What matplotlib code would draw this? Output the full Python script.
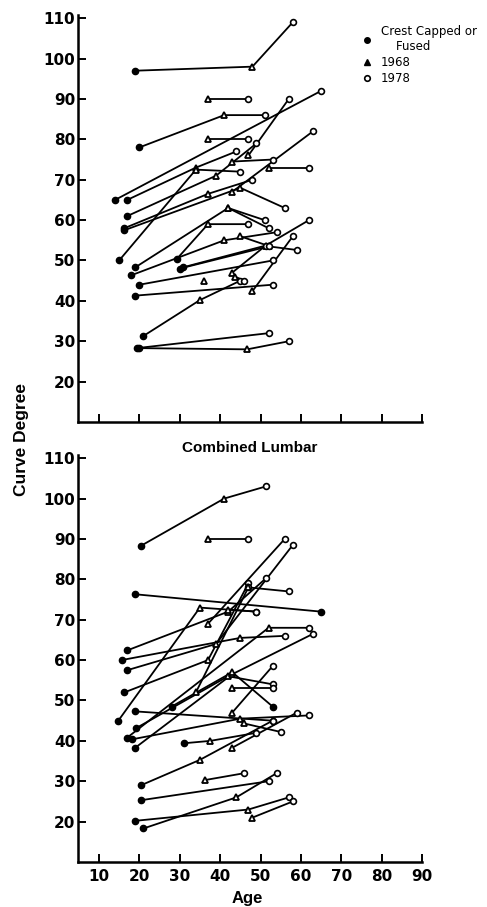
import matplotlib
matplotlib.use('Agg')
import matplotlib.pyplot as plt
from matplotlib.lines import Line2D

# F = crest capped or fused, T = 1968, O = 1978
top_ages = [
    [19, 48, 58], [37, 47], [20, 41, 51], [37, 47], [14, 65],
    [17, 34, 44], [15, 34, 45], [17, 39, 49], [16.3, 37, 48], [16.3, 45, 56],
    [43, 63], [43, 53], [47, 57], [52, 62], [19, 42, 51],
    [29.3, 37, 47], [30.8, 51.3, 62], [30, 52, 59], [17.9, 41, 54], [20, 53],
    [19, 53], [21, 35, 45], [19.4, 52], [20, 46.7, 57], [36],
    [43, 51.3], [43.7, 46], [48, 58], [45, 52], [42, 52],
]
top_degs = [
    [97, 98, 109], [90, 90], [78, 86, 86], [80, 80], [65, 92],
    [65, 73, 77], [50, 72.5, 72], [61, 71, 79], [58, 66.5, 70], [57.5, 68, 63],
    [67, 82], [74.5, 75], [76, 90], [73, 73], [48.3, 63, 60],
    [50.4, 59, 59], [48.3, 53.7, 60], [48, 53.5, 52.6], [46.3, 55, 57], [44, 50],
    [41.3, 44], [31.3, 40.2, 45], [28.3, 32], [28.3, 28, 30], [45],
    [47, 53.7], [46, 45], [42.4, 56], [56, 53.6], [63, 58],
]
top_kinds = [
    "FTO", "TO", "FTO", "TO", "FO",
    "FTO", "FTO", "FTO", "FTO", "FTO",
    "TO", "TO", "TO", "TO", "FTO",
    "FTO", "FTO", "FTO", "FTO", "FO",
    "FO", "FTO", "FO", "FTO", "T",
    "TO", "TO", "TO", "TO", "TO",
]

bot_ages = [
    [20.4, 41, 51.3], [37, 47], [19, 65], [17, 42, 51.4], [15.6, 45, 56],
    [17, 39, 58], [16.3, 37, 47], [14.8, 35, 49], [19, 53], [19.3, 42, 53],
    [17, 52, 62], [18.3, 45, 62], [19, 43, 63], [31, 37.6, 49], [20.4, 35, 53],
    [20.4, 52], [19, 47, 57], [21, 44, 54], [36.3, 46], [48, 58],
    [37, 56], [28, 43, 53], [43, 53], [43, 53], [43, 59],
    [46, 55], [34, 47], [47, 57], [42, 49],
]
bot_degs = [
    [88.3, 100, 103], [90, 90], [76.3, 72], [62.4, 72, 80.3], [60, 65.5, 66],
    [57.5, 64, 88.5], [52, 60, 79], [45, 73, 72], [47.3, 45], [43.2, 56, 54],
    [40.8, 68, 68], [40.4, 45.5, 46.3], [38.3, 56.5, 66.5], [39.4, 40, 42], [29, 35.3, 45],
    [25.3, 30], [20.2, 23, 26], [18.3, 26, 32], [30.3, 32], [21, 25],
    [69, 90], [48.5, 57, 48.5], [53, 53], [47, 58.5], [38.3, 47],
    [44.3, 42.2], [52, 78], [78, 77], [72.5, 72],
]
bot_kinds = [
    "FTO", "TO", "FF", "FTO", "FTO",
    "FTO", "FTO", "FTO", "FO", "FTO",
    "FTO", "FTO", "FTO", "FTO", "FTO",
    "FO", "FTO", "FTO", "TO", "TO",
    "TO", "FTF", "TO", "TO", "TO",
    "TO", "TO", "TO", "TO",
]

styles = {
    'F': dict(marker='o', ms=4.5, mfc='black', mec='black', mew=1),
    'T': dict(marker='^', ms=5, mfc='white', mec='black', mew=1.3),
    'O': dict(marker='o', ms=4.2, mfc='white', mec='black', mew=1.2),
}


def draw(ax, ages, degs, kinds):
    for a, d, k in zip(ages, degs, kinds):
        ax.plot(a, d, color='black', lw=1.3, zorder=2)
        for x, y, m in zip(a, d, k):
            ax.plot(x, y, ls='none', zorder=3, **styles[m])


def style_axes(ax):
    ax.set_xlim(4.8, 90)
    ax.set_ylim(10, 110.8)
    ax.set_xticks(range(10, 91, 10))
    ax.set_yticks(range(20, 111, 10))
    for s in ['top', 'right']:
        ax.spines[s].set_visible(False)
    for s in ['left', 'bottom']:
        ax.spines[s].set_linewidth(1.8)
    ax.tick_params(direction='in', length=6, width=1.4, pad=2)
    ax.tick_params(axis='x', pad=5)
    for lab in ax.get_xticklabels() + ax.get_yticklabels():
        lab.set_fontfamily('DejaVu Sans')
        lab.set_fontweight('bold')
        lab.set_fontsize(11)


fig = plt.figure(figsize=(4.87, 9.07), dpi=100)
ax1 = fig.add_axes([0.160, 0.5347, 0.7067, 0.4488])
ax2 = fig.add_axes([0.160, 0.0496, 0.7067, 0.4488])

draw(ax1, top_ages, top_degs, top_kinds)
draw(ax2, bot_ages, bot_degs, bot_kinds)
style_axes(ax1)
style_axes(ax2)
ax1.set_xticklabels([])

ax2.set_title('Combined Lumbar', fontfamily='Liberation Sans', fontweight='bold',
              fontsize=11, pad=-3.5)

fig.text(0.045, 1 - 440 / 907, 'Curve Degree', rotation=90, ha='center', va='center',
         fontfamily='Liberation Sans', fontweight='bold', fontsize=12.5)
fig.text(0.507, 1.5 / 907, 'Age', ha='center', va='bottom',
         fontfamily='Liberation Sans', fontweight='bold', fontsize=12)

handles = [
    Line2D([], [], ls='none', marker='o', ms=4, mfc='black', mec='black'),
    Line2D([], [], ls='none', marker='^', ms=4.5, mfc='black', mec='black'),
    Line2D([], [], ls='none', marker='o', ms=4, mfc='white', mec='black', mew=1.2),
]
fig.legend(handles, ['Crest Capped or\n    Fused', '1968', '1978'],
           loc='upper left', bbox_to_anchor=(362 / 487, 1 - 25 / 907),
           frameon=False, fontsize=8.5, handlelength=0.8, handletextpad=0.8,
           labelspacing=0.25, borderpad=0, borderaxespad=0)

fig.savefig('out.png', dpi=100)
